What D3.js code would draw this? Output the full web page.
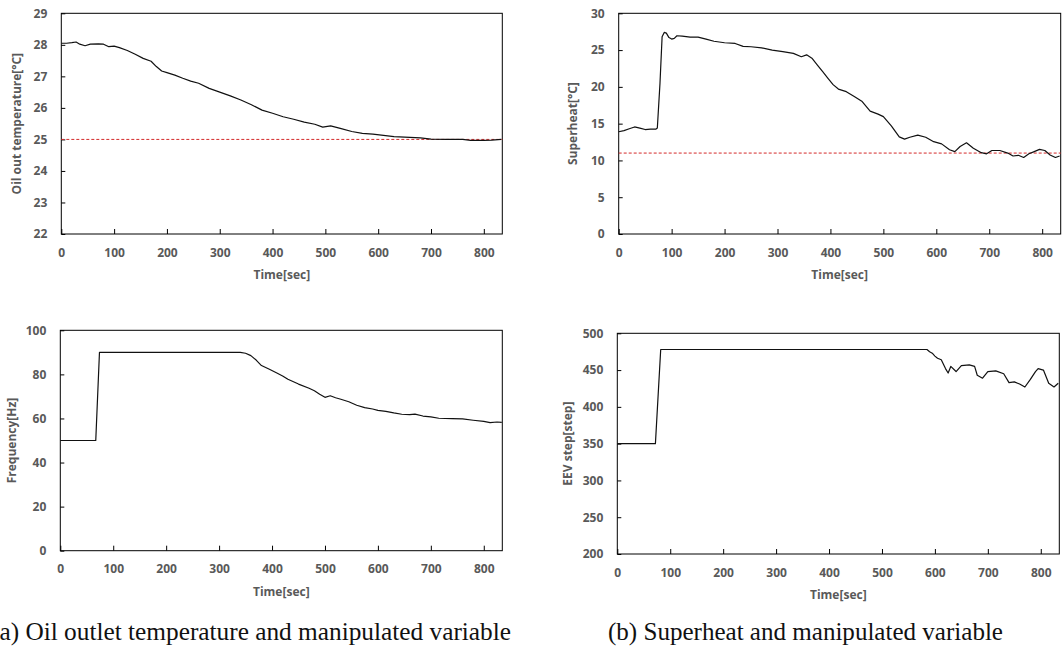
<!DOCTYPE html>
<html>
<head>
<meta charset="utf-8">
<script src="https://cdn.jsdelivr.net/npm/d3@7/dist/d3.min.js"></script>
<style>
  html, body { margin: 0; padding: 0; background: #fff; }
  svg { display: block; }
  .tick text, .atitle { font-family: "Open Sans", sans-serif; font-weight: 700; fill: #595959; }
  .cap { font-family: "Liberation Serif", "Times New Roman", serif; fill: #111; }
</style>
</head>
<body>
<svg id="chart" width="1062" height="650"></svg>
<script>
// ---------- data ----------
const oilTime = [0,10,20,28,35,45,55,70,80,90,100,110,125,140,155,170,180,190,200,215,230,245,260,280,300,320,340,360,380,400,420,440,460,480,495,510,530,550,570,590,610,630,650,680,700,730,760,775,800,815,833];
const oilTemp = [28.05,28.05,28.07,28.09,28.02,27.97,28.02,28.03,28.02,27.94,27.96,27.91,27.82,27.70,27.57,27.48,27.31,27.17,27.12,27.04,26.94,26.85,26.78,26.62,26.50,26.38,26.25,26.10,25.93,25.83,25.72,25.64,25.55,25.48,25.39,25.43,25.34,25.25,25.19,25.17,25.13,25.09,25.07,25.05,25.01,25.00,25.00,24.97,24.97,24.98,25.00];
const oilTarget = 25;

const shTime = [0,10,20,30,40,50,60,70,73,78,82,86,90,95,100,105,110,120,135,150,165,180,200,220,235,250,270,290,310,330,345,355,365,375,385,395,405,415,430,445,460,475,490,500,515,530,540,550,565,580,595,610,625,635,645,657,670,685,695,705,720,735,745,755,765,775,785,795,805,815,825,833];
const shVal  = [13.9,14.05,14.3,14.55,14.4,14.2,14.25,14.25,14.4,20.5,26.8,27.4,27.3,26.7,26.5,26.6,26.95,26.9,26.75,26.75,26.5,26.2,26.0,25.9,25.5,25.45,25.3,25.0,24.8,24.55,24.1,24.35,23.9,23.0,22.1,21.2,20.3,19.7,19.35,18.7,18.0,16.7,16.3,15.95,14.7,13.2,12.9,13.15,13.45,13.15,12.55,12.25,11.45,11.2,11.9,12.4,11.65,11.05,10.9,11.35,11.35,11.0,10.6,10.7,10.4,10.9,11.2,11.5,11.35,10.75,10.4,10.6];
const shTarget = 11;

const frTime = [0,67,74,340,350,360,370,380,395,410,420,430,450,470,480,490,500,510,520,530,545,560,575,590,600,615,630,645,660,670,685,700,715,740,760,780,800,812,825,834];
const frVal  = [50,50,90,90,89.6,88.5,86.5,84.0,82.3,80.5,79.3,77.8,75.6,73.7,72.6,71.0,69.6,70.3,69.4,68.7,67.6,66.0,64.9,64.3,63.7,63.2,62.5,61.9,61.7,62.0,61.1,60.7,60.1,59.9,59.8,59.2,58.7,58.1,58.4,58.2];

const evTime = [0,72,82,585,590,595,600,605,612,620,625,630,640,650,665,675,680,690,700,715,730,740,750,760,770,780,790,795,805,815,825,833];
const evVal  = [350,350,478,478,475,473,469,466,464,452,446,455,448,456,457,455,443,439,448,449,445,433,434,431,427,437,448,452,450,432,427,432];

const xTicks = [0,100,200,300,400,500,600,700,800];
const oilTicks = [22,23,24,25,26,27,28,29];
const shTicks = [0,5,10,15,20,25,30];
const frTicks = [0,20,40,60,80,100];
const evTicks = [200,250,300,350,400,450,500];

const captions = ["(a) Oil outlet temperature and manipulated variable", "(b) Superheat and manipulated variable"];

// ---------- drawing ----------
const svg = d3.select("#chart");

function panel(cfg) {
  const x = d3.scaleLinear().domain([0, 835]).range([cfg.x0, cfg.x1]);
  const y = d3.scaleLinear().domain(cfg.yDomain).range([cfg.y1, cfg.y0]);
  const g = svg.append("g");

  g.append("g").attr("transform", `translate(0,${cfg.y1})`)
    .call(d3.axisBottom(x).tickValues(xTicks).tickSize(-5).tickPadding(14).tickFormat(d3.format("d")))
    .call(a => a.select(".domain").remove())
    .call(a => a.selectAll("line").attr("stroke", "#000"))
    .call(a => a.selectAll("text").attr("font-size", 12));

  g.append("g").attr("transform", `translate(${cfg.x0},0)`)
    .call(d3.axisLeft(y).tickValues(cfg.yTicks).tickSize(-4).tickPadding(14).tickFormat(d3.format("d")))
    .call(a => a.select(".domain").remove())
    .call(a => a.selectAll("line").attr("stroke", "#000"))
    .call(a => a.selectAll("text").attr("font-size", 12));

  g.append("rect")
    .attr("x", cfg.x0).attr("y", cfg.y0)
    .attr("width", cfg.x1 - cfg.x0).attr("height", cfg.y1 - cfg.y0)
    .attr("fill", "none").attr("stroke", "#000").attr("stroke-width", 1);

  if (cfg.target !== undefined) {
    g.append("line")
      .attr("x1", x(0)).attr("x2", x(835))
      .attr("y1", y(cfg.target)).attr("y2", y(cfg.target))
      .attr("stroke", "#d42a2a").attr("stroke-width", 1).attr("stroke-dasharray", "3,2");
  }

  const pts = cfg.t.map((t, i) => [t, cfg.v[i]]);
  g.append("path").datum(pts)
    .attr("fill", "none").attr("stroke", "#111").attr("stroke-width", 1.2)
    .attr("stroke-linejoin", "round")
    .attr("d", d3.line().x(d => x(d[0])).y(d => y(d[1])));

  g.append("text").attr("class", "atitle")
    .attr("x", (cfg.x0 + cfg.x1) / 2).attr("y", cfg.xtY)
    .attr("text-anchor", "middle").attr("font-size", 12).text("Time[sec]");

  g.append("text").attr("class", "atitle")
    .attr("transform", `translate(${cfg.ytX},${(cfg.y0 + cfg.y1) / 2}) rotate(-90)`)
    .attr("text-anchor", "middle").attr("font-size", 12).text(cfg.ylabel);
}

panel({ x0: 61.3, x1: 502.3, y0: 13.3, y1: 234, yDomain: [22, 29], yTicks: oilTicks,
        t: oilTime, v: oilTemp, target: oilTarget, ylabel: "Oil out temperature[°C]", xtY: 279, ytX: 21 });
panel({ x0: 618.7, x1: 1060.7, y0: 13.3, y1: 234, yDomain: [0, 30], yTicks: shTicks,
        t: shTime, v: shVal, target: shTarget, ylabel: "Superheat[°C]", xtY: 279, ytX: 577 });
panel({ x0: 60.3, x1: 502.3, y0: 330.3, y1: 550.7, yDomain: [0, 100], yTicks: frTicks,
        t: frTime, v: frVal, ylabel: "Frequency[Hz]", xtY: 596, ytX: 16 });
panel({ x0: 617.3, x1: 1059.3, y0: 333.3, y1: 554, yDomain: [200, 500], yTicks: evTicks,
        t: evTime, v: evVal, ylabel: "EEV step[step]", xtY: 599, ytX: 572 });

svg.append("text").attr("class", "cap").attr("x", -9).attr("y", 640)
  .attr("font-size", 25).attr("textLength", 520).attr("lengthAdjust", "spacingAndGlyphs")
  .text(captions[0]);
svg.append("text").attr("class", "cap").attr("x", 608).attr("y", 640)
  .attr("font-size", 25).attr("textLength", 395).attr("lengthAdjust", "spacingAndGlyphs")
  .text(captions[1]);
</script>
</body>
</html>
